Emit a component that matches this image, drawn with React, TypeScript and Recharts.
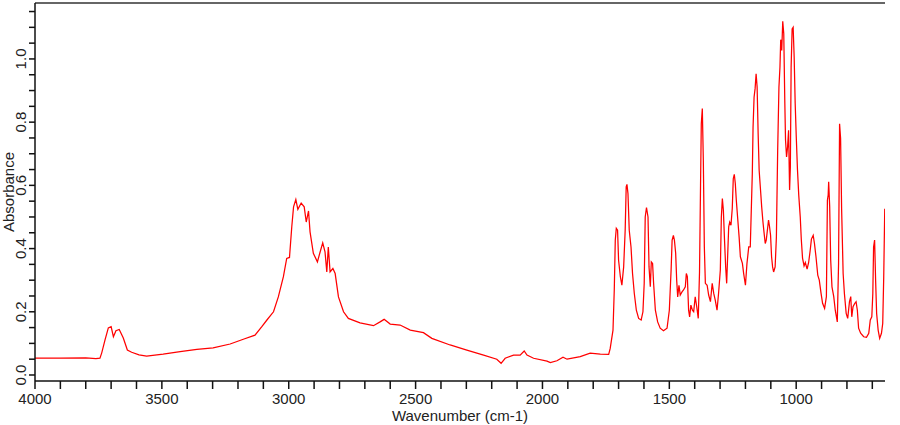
import { LineChart, Line, XAxis, YAxis, ReferenceLine, Label } from 'recharts';

// IR spectrum, wavenumber (cm-1) vs absorbance
const wavenumbers = [
  4000, 3900, 3800, 3760, 3744, 3737, 3724, 3711, 3700, 3691, 3681, 3668, 3652, 3636, 3619, 3590,
  3560, 3495, 3428, 3362, 3298, 3231, 3179, 3133, 3106, 3086, 3060, 3041, 3021, 3008, 2997, 2988,
  2981, 2972, 2964, 2951, 2939, 2931, 2922, 2916, 2903, 2887, 2876, 2866, 2857, 2850, 2844, 2837,
  2826, 2817, 2804, 2784, 2765, 2719, 2666, 2640, 2624, 2600, 2561, 2521, 2469, 2436, 2364, 2298,
  2232, 2180, 2163, 2147, 2114, 2088, 2072, 2061, 2035, 1982, 1969, 1943, 1919, 1903, 1851, 1812,
  1772, 1739, 1733, 1722, 1717, 1713, 1709, 1704, 1700, 1693, 1687, 1680, 1674, 1670, 1667, 1663,
  1658, 1651, 1645, 1638, 1630, 1621, 1611, 1604, 1599, 1595, 1590, 1584, 1580, 1575, 1571, 1566,
  1562, 1555, 1546, 1536, 1523, 1509, 1500, 1493, 1489, 1484, 1480, 1475, 1471, 1467, 1462, 1457,
  1450, 1444, 1437, 1433, 1429, 1424, 1420, 1415, 1409, 1404, 1398, 1392, 1386, 1381, 1377, 1374,
  1370, 1366, 1362, 1358, 1351, 1345, 1338, 1331, 1325, 1319, 1312, 1306, 1299, 1295, 1291, 1287,
  1283, 1278, 1274, 1270, 1266, 1262, 1257, 1252, 1248, 1244, 1240, 1236, 1231, 1225, 1220, 1212,
  1207, 1200, 1194, 1187, 1181, 1177, 1173, 1170, 1166, 1162, 1158, 1154, 1150, 1146, 1141, 1136,
  1131, 1127, 1122, 1118, 1112, 1109, 1105, 1101, 1097, 1093, 1089, 1083, 1078, 1073, 1068, 1064,
  1061, 1057, 1053, 1049, 1045, 1042, 1038, 1034, 1030, 1026, 1023, 1020, 1016, 1012, 1008, 1004,
  1000, 995, 990, 984, 980, 975, 969, 964, 957, 951, 945, 940, 933, 928, 922, 915,
  909, 902, 896, 888, 881, 877, 874, 872, 868, 864, 859, 852, 846, 838, 833, 829,
  825, 821, 815, 810, 803, 797, 790, 785, 781, 776, 769, 764, 759, 754, 746, 734,
  723, 714, 708, 702, 698, 695, 691, 687, 683, 677, 671, 664, 659, 655, 651,
];

const absorbance = [
  0.053, 0.053, 0.054, 0.052, 0.053, 0.07, 0.111, 0.149, 0.153, 0.121, 0.14, 0.144, 0.117, 0.079, 0.072, 0.064,
  0.06, 0.066, 0.074, 0.081, 0.086, 0.098, 0.113, 0.126, 0.153, 0.174, 0.2, 0.247, 0.311, 0.369, 0.372, 0.469,
  0.532, 0.555, 0.524, 0.544, 0.532, 0.484, 0.519, 0.453, 0.385, 0.358, 0.39, 0.418, 0.39, 0.326, 0.405, 0.326,
  0.337, 0.321, 0.247, 0.2, 0.179, 0.165, 0.156, 0.168, 0.176, 0.161, 0.158, 0.142, 0.134, 0.116, 0.095, 0.079,
  0.063, 0.05, 0.037, 0.053, 0.063, 0.063, 0.076, 0.063, 0.053, 0.044, 0.039, 0.045, 0.056, 0.05, 0.058, 0.069,
  0.066, 0.065, 0.084, 0.142, 0.269, 0.427, 0.464, 0.458, 0.363, 0.311, 0.284, 0.342, 0.458, 0.595, 0.603, 0.574,
  0.458, 0.405, 0.321, 0.258, 0.205, 0.179, 0.174, 0.2, 0.29, 0.5, 0.53, 0.5, 0.342, 0.279, 0.358, 0.353,
  0.29, 0.205, 0.168, 0.148, 0.14, 0.148, 0.205, 0.332, 0.427, 0.442, 0.427, 0.385, 0.3, 0.247, 0.284, 0.253,
  0.263, 0.269, 0.279, 0.321, 0.311, 0.205, 0.184, 0.221, 0.205, 0.2, 0.247, 0.216, 0.179, 0.326, 0.6, 0.795,
  0.843, 0.679, 0.405, 0.29, 0.284, 0.253, 0.232, 0.29, 0.258, 0.237, 0.205, 0.258, 0.332, 0.5, 0.558, 0.521,
  0.437, 0.342, 0.29, 0.379, 0.469, 0.484, 0.474, 0.527, 0.621, 0.635, 0.606, 0.553, 0.5, 0.437, 0.374, 0.353,
  0.321, 0.284, 0.353, 0.405, 0.405, 0.521, 0.637, 0.785, 0.879, 0.906, 0.953, 0.911, 0.764, 0.648, 0.59, 0.532,
  0.484, 0.453, 0.416, 0.427, 0.469, 0.49, 0.469, 0.442, 0.374, 0.342, 0.326, 0.342, 0.437, 0.711, 0.911, 0.974,
  1.061, 1.027, 1.119, 1.08, 0.869, 0.743, 0.69, 0.721, 0.774, 0.585, 0.658, 0.974, 1.095, 1.1, 1.006, 0.86,
  0.76, 0.65, 0.57, 0.5, 0.43, 0.37, 0.345, 0.356, 0.335, 0.356, 0.393, 0.43, 0.442, 0.416, 0.374, 0.316,
  0.3, 0.258, 0.227, 0.211, 0.248, 0.553, 0.569, 0.611, 0.532, 0.363, 0.279, 0.248, 0.205, 0.168, 0.353, 0.795,
  0.748, 0.526, 0.321, 0.258, 0.195, 0.179, 0.232, 0.248, 0.184, 0.216, 0.227, 0.232, 0.205, 0.148, 0.132, 0.121,
  0.119, 0.132, 0.174, 0.184, 0.258, 0.405, 0.427, 0.3, 0.195, 0.142, 0.116, 0.132, 0.163, 0.311, 0.526,
];

const xTicks = [4000, 3900, 3800, 3700, 3600, 3500, 3400, 3300, 3200, 3100, 3000, 2900, 2800, 2700, 2600, 2500, 2400, 2300, 2200, 2100, 2000, 1900, 1800, 1700, 1600, 1500, 1400, 1300, 1200, 1100, 1000, 900, 800, 700];
const xLabels = [4000, 3500, 3000, 2500, 2000, 1500, 1000];
const yTicks = [0, 0.05, 0.1, 0.15, 0.2, 0.25, 0.3, 0.35, 0.4, 0.45, 0.5, 0.55, 0.6, 0.65, 0.7, 0.75, 0.8, 0.85, 0.9, 0.95, 1.0, 1.05, 1.1, 1.15];
const yLabels = [0, 0.2, 0.4, 0.6, 0.8, 1.0];

const data = wavenumbers.map((wn, i) => ({ wn, a: absorbance[i] }));

const FONT = '"Liberation Sans", Arial, sans-serif';
const TEXT = '#222';
const Y_MIN = -0.019;
const Y_MAX = 1.177;

function XTick(props: any) {
  const { x, y, payload } = props;
  if (!xLabels.includes(payload.value)) return <g />;
  return (
    <text x={x} y={y + 13} textAnchor="middle" fontFamily={FONT} fontSize={15} fill={TEXT}>
      {payload.value}
    </text>
  );
}

function YTick(props: any) {
  const { x, y, payload } = props;
  const v = Math.round(payload.value * 100) / 100;
  if (!yLabels.includes(v)) return <g />;
  return (
    <text
      x={x - 1}
      y={y}
      transform={`rotate(-90 ${x - 1} ${y})`}
      textAnchor="middle"
      fontFamily={FONT}
      fontSize={15}
      fill={TEXT}
    >
      {v.toFixed(1)}
    </text>
  );
}

export default function App() {
  return (
    <div style={{ position: 'absolute', left: 0, top: 0, background: '#fff' }}>
      <LineChart width={900} height={425} data={data} margin={{ top: 3, right: 15, bottom: 0, left: 0 }}>
        <XAxis
          dataKey="wn"
          type="number"
          domain={[650, 4000]}
          reversed
          allowDataOverflow
          ticks={xTicks}
          interval={0}
          height={44}
          tickSize={8}
          tickMargin={2}
          tick={<XTick />}
          axisLine={{ stroke: '#111', strokeWidth: 1.5 }}
          tickLine={{ stroke: '#111', strokeWidth: 1.5 }}
        >
          <Label
            content={(p: any) => {
              const vb = p.viewBox;
              return (
                <text x={vb.x + vb.width / 2} y={421} textAnchor="middle" fontFamily={FONT} fontSize={15} fill={TEXT}>
                  Wavenumber (cm-1)
                </text>
              );
            }}
          />
        </XAxis>
        <YAxis
          type="number"
          domain={[Y_MIN, Y_MAX]}
          allowDataOverflow
          ticks={yTicks}
          interval={0}
          width={35}
          tickSize={6}
          tickMargin={2}
          tick={<YTick />}
          axisLine={{ stroke: '#111', strokeWidth: 1.5 }}
          tickLine={{ stroke: '#111', strokeWidth: 1.5 }}
        >
          <Label
            content={(p: any) => {
              const vb = p.viewBox;
              const cy = vb.y + vb.height / 2;
              return (
                <text x={14} y={cy} transform={`rotate(-90 14 ${cy})`} textAnchor="middle" fontFamily={FONT} fontSize={15} fill={TEXT}>
                  Absorbance
                </text>
              );
            }}
          />
        </YAxis>
        <ReferenceLine y={Y_MAX} stroke="#666" strokeWidth={2} />
        <Line
          dataKey="a"
          type="linear"
          stroke="#ff0000"
          strokeWidth={1.25}
          dot={false}
          isAnimationActive={false}
        />
      </LineChart>
    </div>
  );
}
